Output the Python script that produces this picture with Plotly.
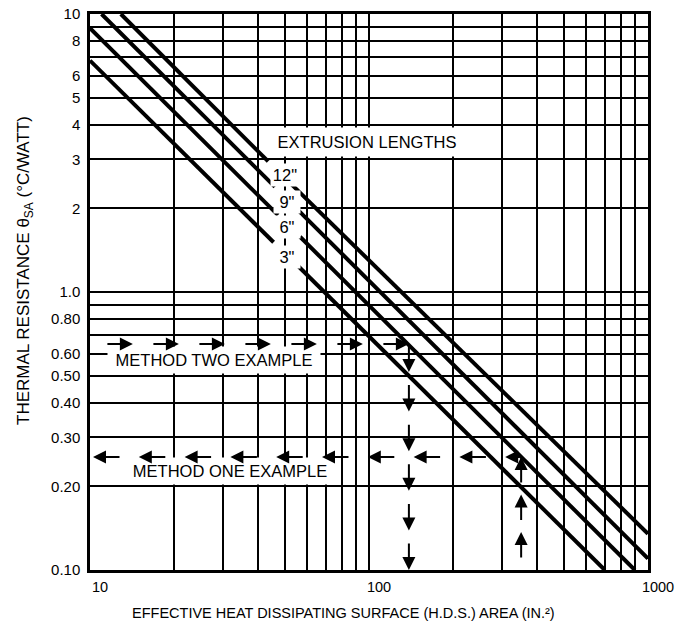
import math
import plotly.graph_objects as go

# ---------------- data ----------------
# extrusion length curves (H.D.S. area in², thermal resistance °C/W); None = label gap
len_labels = ['3"', '6"', '9"', '12"']
area_3in = [10, 45.5, None, 55.7, 700]
theta_3in = [6.8, 1.51, None, 1.24, 0.1]
area_6in = [10, 47.2, None, 56.6, 897]
theta_6in = [8.9, 1.89, None, 1.58, 0.1]
area_9in = [11.0, 46.0, None, 55.7, 1000]
theta_9in = [10, 2.39, None, 1.97, 0.11]
area_12in = [12.9, 43.5, None, 52.1, 1000]
theta_12in = [10, 2.95, None, 2.47, 0.135]

# worked examples
method_two_theta = 0.65   # read across to 6" curve
method_two_area = 139
method_one_area = 351     # read up to 6" curve
method_one_theta = 0.255

# axis ticks
x_grid = [10, 20, 30, 40, 50, 60, 70, 80, 90, 100, 200, 300, 400, 500, 600, 700, 800, 900, 1000]
x_ticktext = ['10', '', '', '', '', '', '', '', '', '100', '', '', '', '', '', '', '', '', '1000']
y_grid = [0.1, 0.2, 0.3, 0.4, 0.5, 0.6, 0.7, 0.8, 0.9, 1, 2, 3, 4, 5, 6, 7, 8, 9, 10]
y_ticktext = ['0.10', '0.20', '0.30', '0.40', '0.50', '0.60', '', '0.80', '', '1.0',
              '2', '3', '4', '5', '6', '', '8', '', '10']

# ---------------- layout geometry ----------------
W, H = 681, 628
L, R, T, B = 90, 648, 14, 570
FONT = 'Liberation Sans, Arial, Helvetica, sans-serif'


def px_x(px):
    return (px - L) / (R - L)


def px_y(py):
    return (B - py) / (B - T)


fig = go.Figure()
for xs, ys, name in [(area_3in, theta_3in, len_labels[0]), (area_6in, theta_6in, len_labels[1]),
                     (area_9in, theta_9in, len_labels[2]), (area_12in, theta_12in, len_labels[3])]:
    fig.add_trace(go.Scatter(x=xs, y=ys, mode='lines', name=name,
                             line=dict(color='black', width=4), connectgaps=False,
                             showlegend=False, hoverinfo='skip'))

annotations = []


def box(text, cx, cy, w, h, size=16):
    annotations.append(dict(text=text, xref='paper', yref='paper', x=px_x(cx), y=px_y(cy),
                            xanchor='center', yanchor='middle', showarrow=False,
                            width=w, height=h, bgcolor='white', borderpad=2,
                            font=dict(family=FONT, size=size, color='black')))


box('EXTRUSION LENGTHS', 367, 142, 186, 24, 16.5)
box('12"', 285, 175, 24, 18, 16.5)
box('9"', 287, 202, 22, 18, 16.5)
box('6"', 287, 227, 22, 18, 16.5)
box('3"', 287, 257, 22, 18, 16.5)
box('METHOD TWO EXAMPLE', 214, 360, 208, 22, 16.5)
box('METHOD ONE EXAMPLE', 230, 471, 214, 22, 16.5)

XD = (R - L) / 2.0   # px per decade
YD = (B - T) / 2.0


def arrows_h(y_val, tip_x, direction, n, period_px, dash_px):
    ly = math.log10(y_val)
    lt = math.log10(tip_x)
    for i in range(n):
        head = lt - direction * i * period_px / XD
        tail = head - direction * dash_px / XD
        if direction < 0:
            tail = min(tail, math.log10(method_one_area))
        annotations.append(dict(x=head, y=ly, ax=tail, ay=ly, xref='x', yref='y', axref='x', ayref='y',
                                text='', showarrow=True, arrowhead=2, arrowsize=1.3, arrowwidth=2,
                                arrowcolor='black', standoff=0))


def arrows_v(x_val, tip_y, direction, n, period_px, dash_px, limit=None):
    lx = math.log10(x_val)
    lt = math.log10(tip_y)
    for i in range(n):
        head = lt - direction * i * period_px / YD
        tail = head - direction * dash_px / YD
        if limit is not None:
            tail = min(tail, math.log10(limit)) if direction < 0 else max(tail, math.log10(limit))
        annotations.append(dict(x=lx, y=head, ax=lx, ay=tail, xref='x', yref='y', axref='x', ayref='y',
                                text='', showarrow=True, arrowhead=2, arrowsize=1.3, arrowwidth=2,
                                arrowcolor='black', standoff=0))


# method two: right along theta, then down to the area axis
arrows_h(method_two_theta, method_two_area, +1, 7, 46, 27)
arrows_v(method_two_area, 0.1, -1, 6, 39.6, 28, limit=method_two_theta)
# method one: up from the area axis, then left to the theta axis
arrows_v(method_one_area, method_one_theta, +1, 3, 37.5, 27)
arrows_h(method_one_theta, 10 ** (1 + 3 / XD), -1, 10, 45.8, 28)

# axis titles
annotations.append(dict(text='THERMAL RESISTANCE θ<sub>SA</sub> (°C/WATT)', xref='paper', yref='paper',
                        x=px_x(25), y=px_y(271), textangle=-90, showarrow=False,
                        xanchor='center', yanchor='middle',
                        font=dict(family=FONT, size=17, color='black')))
annotations.append(dict(text='EFFECTIVE HEAT DISSIPATING SURFACE (H.D.S.) AREA (IN.²)', xref='paper',
                        yref='paper', x=px_x(343), y=px_y(613), showarrow=False,
                        xanchor='center', yanchor='middle',
                        font=dict(family=FONT, size=14.5, color='black')))

axis_common = dict(type='log', showgrid=True, gridcolor='black', gridwidth=1.5,
                   showline=True, linecolor='black', linewidth=2.5, mirror=True,
                   ticks='', zeroline=False, tickmode='array', automargin=False)

fig.update_layout(
    width=W, height=H,
    margin=dict(l=L, r=W - R, t=T, b=H - B, autoexpand=False),
    paper_bgcolor='white', plot_bgcolor='white',
    showlegend=False,
    annotations=annotations,
    xaxis=dict(range=[1, 3], tickvals=x_grid, ticktext=x_ticktext,
               tickfont=dict(family=FONT, size=14.5, color='black'),
               ticklabelshift=10, ticklabelstandoff=2, **axis_common),
    yaxis=dict(range=[-1, 1], tickvals=y_grid, ticktext=y_ticktext,
               tickfont=dict(family=FONT, size=15, color='black'),
               ticklabelstandoff=4, **axis_common),
)

fig.write_html('out.html', config={'displayModeBar': False},
               post_script="document.body.style.margin='0px';")
